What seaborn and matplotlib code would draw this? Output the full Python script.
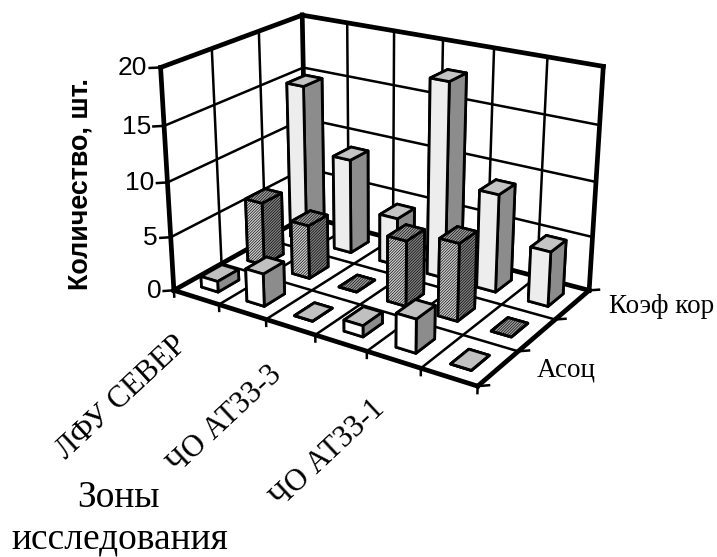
import numpy as np
import matplotlib
matplotlib.use("Agg")
import matplotlib.pyplot as plt
import seaborn as sns
from mpl_toolkits.mplot3d import proj3d

sns.set_theme(style="white")
plt.rcParams["font.family"] = ["Liberation Serif", "DejaVu Serif"]
plt.rcParams["hatch.linewidth"] = 0.45

# ---- data ----
zones = ["ЛФУ СЕВЕР", "", "ЧО АТЗЗ-3", "", "ЧО АТЗЗ-1", ""]
series = ["Асоц", "", "Коэф кор"]
asoc = [1, 3, 0, 1, 3, 0]
middle = [6, 5, 0, 6, 7, 0]
koef = [15, 9, 4.5, 18, 9, 5]
z_ticks = [0, 5, 10, 15, 20]
y_title = "Количество, шт."
x_title = ["Зоны", "исследования"]

W, H = 717, 557
fig = plt.figure(figsize=(W / 100, H / 100), dpi=100, facecolor="white")
ax = fig.add_axes([0, 0, 1, 1], projection="3d")
ax.set_proj_type("ortho")
ax.set_axis_off()
ax.computed_zorder = False

# ---- camera calibrated from the box corners (Excel-style perspective box) ----
nx, ny, zmax = len(zones), len(series), z_ticks[-1]
world = [(0, 0, 0), (nx, 0, 0), (nx, ny, 0), (0, ny, 0),
         (0, 0, zmax), (0, ny, zmax), (nx, ny, zmax)]
screen = [(175, 290), (477, 387), (590, 289), (305, 217),
          (160, 67), (303, 15), (603, 67)]
A, b = [], []
for (X, Y, Z), (u, v) in zip(world, screen):
    A.append([X, Y, Z, 1, 0, 0, 0, 0, -u * X, -u * Y, -u * Z]); b.append(u)
    A.append([0, 0, 0, 0, X, Y, Z, 1, -v * X, -v * Y, -v * Z]); b.append(v)
p = np.linalg.lstsq(np.array(A, float), np.array(b, float), rcond=None)[0]
M = np.array([[p[0], p[1], p[2], p[3]],
              [p[4], p[5], p[6], p[7]],
              [0, 0, 0, -1.0],
              [p[8], p[9], p[10], 1.0]])
ax.get_proj = lambda: M
ax.apply_aspect = lambda position=None: None
ax.M = M
ax.viewLim.intervalx = (0, W)
ax.viewLim.intervaly = (H, 0)


def to_fig(x, y, z, dx=0, dy=0):
    px, py, _ = proj3d.proj_transform(x, y, z, M)
    return (px + dx) / W, 1 - (py + dy) / H


def seg(p0, p1, lw, z=1):
    ax.plot([p0[0], p1[0]], [p0[1], p1[1]], [p0[2], p1[2]], color="black",
            lw=lw, solid_capstyle="projecting", zorder=z)


THIN, THICK = 1.8, 3.4
# grid
for zt in z_ticks[1:-1]:
    seg((0, 0, zt), (0, ny, zt), THIN)
    seg((0, ny, zt), (nx, ny, zt), THIN)
for yt in range(1, ny):
    seg((0, yt, 0), (0, yt, zmax), THIN)
    seg((0, yt, 0), (nx, yt, 0), THIN)
for xt in range(1, nx):
    seg((xt, ny, 0), (xt, ny, zmax), THIN)
    seg((xt, 0, 0), (xt, ny, 0), THIN)
# frame
for a, c in [((0, 0, 0), (0, 0, zmax)), ((0, ny, 0), (0, ny, zmax)),
             ((nx, ny, 0), (nx, ny, zmax)), ((0, 0, zmax), (0, ny, zmax)),
             ((0, ny, zmax), (nx, ny, zmax)), ((0, 0, 0), (0, ny, 0)),
             ((0, ny, 0), (nx, ny, 0)), ((0, 0, 0), (nx, 0, 0)),
             ((nx, 0, 0), (nx, ny, 0))]:
    seg(a, c, THICK)
# ticks
for zt in z_ticks:
    seg((0, 0, zt), (-0.13, -0.09, zt), THIN)
    fx, fy = to_fig(-0.16, -0.11, zt)
    fig.text(fx, fy, str(zt), ha="right", va="center", fontsize=19,
             family="Liberation Sans", color="black")
for xt in range(0, nx + 1):
    seg((xt, 0, 0), (xt, 0, -0.6), THIN)
for yt in range(0, ny + 1):
    seg((nx, yt, 0), (nx + 0.13, yt + 0.09, 0), THIN)

# bars, painted from the far corner to the near one
styles = {
    0: dict(front="#ffffff", side="#8c8c8c", top="#c0c0c0", hatch=None),
    1: dict(front="#d0d0d0", side="#808080", top="#a0a0a0", hatch="////////////"),
    2: dict(front="#ededed", side="#8c8c8c", top="#c4c4c4", hatch=None),
}
rows = [asoc, middle, koef]
BW, BD = 0.37, 0.44
order = 10
for r in range(ny - 1, -1, -1):
    st = styles[r]
    for i, h in enumerate(rows[r]):
        faces = [st["top"], st["top"], st["front"], st["side"], st["side"], st["side"]]
        kw = {"hatch": st["hatch"]} if st["hatch"] else {}
        ax.bar3d(i + 0.5 - BW / 2, r + 0.5 - BD / 2, 0, BW, BD, h, color=faces,
                 edgecolor="black", linewidth=2.0, shade=False, zorder=order, **kw)
        order += 1

# category labels
for i, name in enumerate(zones):
    if name:
        fx, fy = to_fig(i + 0.5, -0.15, -0.8, dx=-16, dy=20)
        fig.text(fx, fy, name, rotation=43, rotation_mode="anchor", ha="right",
                 va="top", fontsize=22, color="black")
for r, name in enumerate(series):
    if name:
        fx, fy = to_fig(nx + 0.3, r + 0.6, 0, dx=17, dy=0)
        fig.text(fx, fy, name, ha="left", va="center", fontsize=19.5, color="black")

fig.text(81 / W, 1 - 184 / H, y_title, rotation=90, ha="center", va="center",
         fontsize=19.4, fontweight="bold", family="Liberation Sans", color="black")
fig.text(77 / W, 1 - 507 / H, x_title[0], ha="left", va="baseline", fontsize=27, color="black")
fig.text(11 / W, 1 - 549 / H, x_title[1], ha="left", va="baseline", fontsize=27, color="black")

fig.savefig("out.png", dpi=100, facecolor="white")
